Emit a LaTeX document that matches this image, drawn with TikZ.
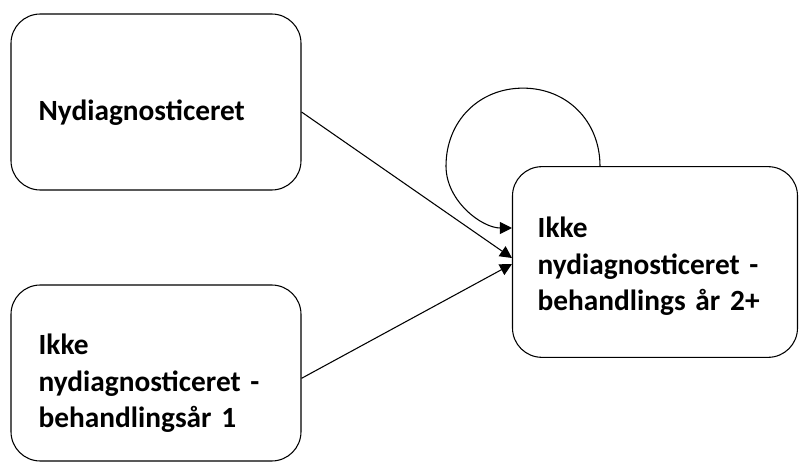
\documentclass[tikz,border=0pt]{standalone}
\usepackage{fontspec}
\setmainfont{Carlito}
\usetikzlibrary{arrows.meta}
\newcommand\tightspaces{\spaceskip=0.14em\relax}
\begin{document}
\begin{tikzpicture}[x=0.75pt,y=-0.75pt,
    font=\fontsize{22pt}{27.5pt}\selectfont\bfseries\tightspaces]

        \useasboundingbox (0,0) rectangle (803,470);

        \begin{scope}[every node/.style={draw,thick,rounded corners=22pt,
            align=left,text width=176pt,inner sep=0pt,
            minimum height=132pt,text height=31pt}]
          \node[minimum width=217.5pt] (ny)   at (156,102) {Nydiagnosticeret};
          \node[minimum width=217.5pt] (aar1) at (156,373) {Ikke\\nydiagnosticeret -\\behandlingsår 1};
          \node[minimum width=213.75pt,minimum height=143pt,
            text height=22pt] (aar2) at (655,262) {Ikke\\nydiagnosticeret -\\behandlings år 2+};
        \end{scope}

        \begin{scope}[every edge/.style={draw,thick,-{Triangle[length=9pt,width=9pt]}}]
          \path ([yshift=-7.5pt]ny.east)  edge ([yshift=3pt]aar2.west);
          \path ([yshift=-4pt]aar1.east)  edge ([yshift=-1.5pt]aar2.west);
        \end{scope}

        % loop on top of the right box
        \draw[thick,-{Triangle[length=9pt,width=9pt]}] ([xshift=-41.25pt]aar2.north)
          .. controls +(0,-45) and +(44,0) .. ++(-77,-78)
          .. controls +(-44,0) and +(0,-45) .. ++(-77,78)
          .. controls +(0,35) and +(-30,0) .. ([yshift=25.5pt]aar2.west);

      \end{tikzpicture}
\end{document}
